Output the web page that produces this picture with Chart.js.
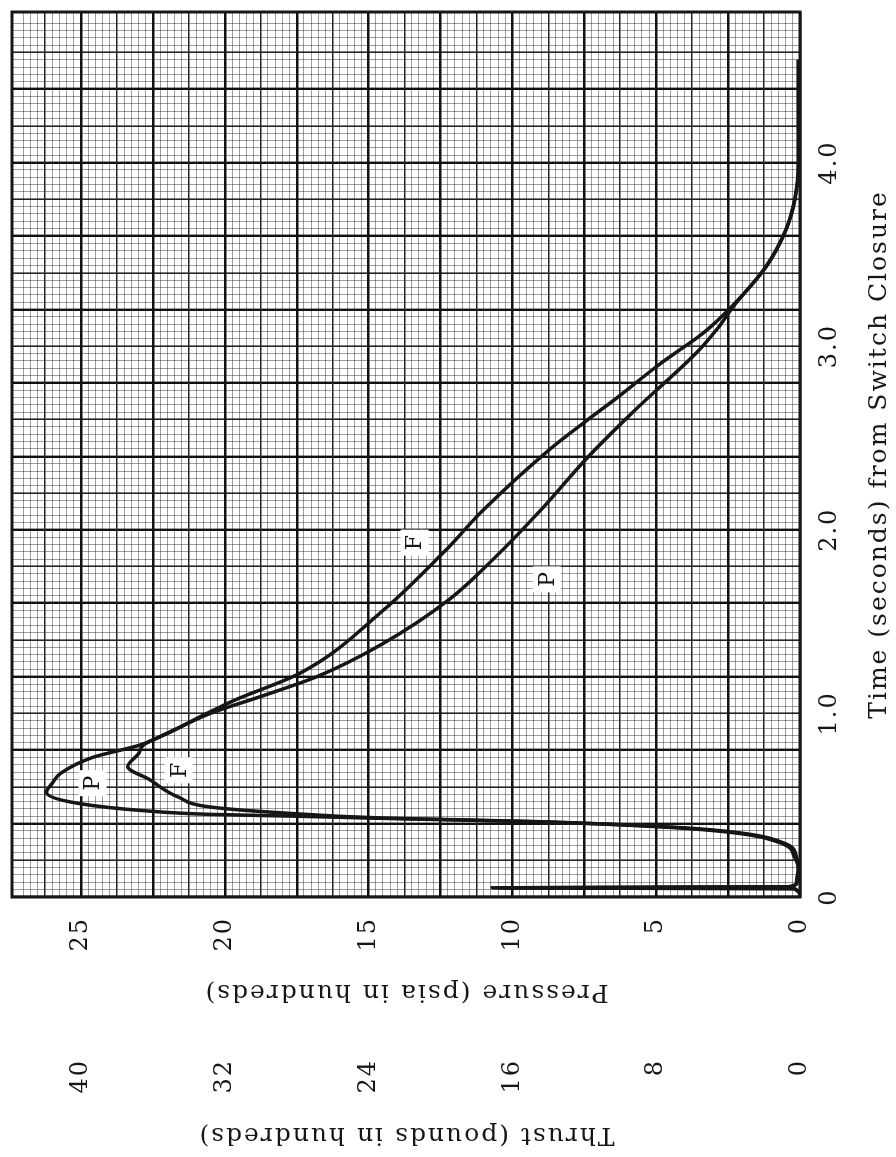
<!DOCTYPE html>
<html>
<head>
<meta charset="utf-8">
<title>Pressure and thrust vs time</title>
<script src="https://cdn.jsdelivr.net/npm/chart.js@4.4.0/dist/chart.umd.min.js"></script>
<style>
    html, body { margin: 0; padding: 0; background: #fff; overflow: hidden; }
    /* the whole record is printed turned a quarter turn to the left */
    #wrap {
        position: absolute; left: 0; top: 0;
        width: 1157px; height: 896px;
        transform-origin: 0 0;
        transform: translate(0px, 1157px) rotate(-90deg);
    }
</style>
</head>
<body>
<div id="wrap"><canvas id="motorChart" width="1157" height="896"></canvas></div>
<script>
// 時間 (s) 與壓力 P (psia / 100)
const pTime = [0, 0.045, 0.05, 0.056, 0.08, 0.15, 0.22, 0.29, 0.35, 0.38, 0.41, 0.43, 0.44, 0.45, 0.47, 0.51, 0.57, 0.62, 0.675, 0.76, 0.83, 0.90, 1.0, 1.1, 1.2, 1.38, 1.62, 1.85, 2.11, 2.4, 2.65, 2.98, 3.1, 3.22, 3.43, 3.63, 3.8, 4.0, 4.3, 4.56];
const pPressure = [0, 0.2, 10.7, 0.4, 0.1, 0.05, 0.2, 0.6, 2.3, 4.6, 9.2, 15.0, 17.5, 20.5, 22.8, 25.1, 26.2, 26.0, 25.7, 24.6, 22.9, 21.9, 20.5, 18.6, 16.8, 14.5, 12.2, 10.6, 9.0, 7.35, 5.75, 3.5, 2.85, 2.3, 1.2, 0.5, 0.17, 0.05, 0.05, 0.05];

// 時間 (s) 與推力 F (lb / 100)
const fTime = [0, 0.045, 0.05, 0.056, 0.08, 0.15, 0.22, 0.29, 0.35, 0.38, 0.41, 0.43, 0.46, 0.49, 0.545, 0.64, 0.71, 0.78, 0.83, 0.90, 1.0, 1.07, 1.22, 1.56, 1.89, 2.11, 2.44, 2.6, 2.71, 2.91, 3.07, 3.22, 3.43, 3.63, 3.8, 4.0, 4.3, 4.56];
const fThrust = [0, 0.3, 16.8, 0.5, 0.2, 0.1, 0.2, 0.8, 3.4, 7.0, 14.4, 23.2, 29.1, 32.8, 34.6, 36.2, 37.4, 36.8, 36.5, 35.0, 33.0, 31.5, 27.8, 23.2, 19.7, 17.6, 13.9, 11.8, 10.3, 7.7, 5.4, 3.75, 1.9, 0.8, 0.3, 0.1, 0.1, 0.1];

// 刻度
const timeTickValues = [0, 1, 2, 3, 4];
const timeTickLabels = ['0', '1.0', '2.0', '3.0', '4.0'];
const pressureTickValues = [0, 5, 10, 15, 20, 25];
const pressureTickLabels = ['0', '5', '10', '15', '20', '25'];
const thrustTickValues = [0, 8, 16, 24, 32, 40];
const thrustTickLabels = ['0', '8', '16', '24', '32', '40'];

// 曲線旁的字母
const curveLabelText = ['P', 'F', 'F', 'P'];
const curveLabelTime = [0.62, 0.69, 1.93, 1.73];
const curveLabelPressure = [24.6, 21.6, 13.4, 8.8];

const INK = '#161616';
const FONT = "'DejaVu Serif', 'Liberation Serif', serif";

/**
 * 方格紙：每 10 格粗線，每 5 格中線，其餘細線
 */
function gridColor(step) {
    return function (ctx) {
        const v = ctx.tick.value;
        const n = Math.round(v / step);
        if (Math.abs(v - n * step) > step / 100) return 'rgba(0,0,0,0)';
        if (n % 10 === 0) return '#111';
        if (n % 5 === 0) return '#262626';
        return 'rgba(0,0,0,0.38)';
    };
}
function gridWidth(step) {
    return function (ctx) {
        const n = Math.round(ctx.tick.value / step);
        if (n % 10 === 0) return 2.4;
        if (n % 5 === 0) return 1.6;
        return 1;
    };
}
function pickLabel(values, labels) {
    return function (value) {
        const i = values.findIndex(v => Math.abs(v - value) < 1e-6);
        return i >= 0 ? labels[i] : '';
    };
}
// 固定軸的寬高，不讓空白刻度撐開邊距
function fixSize(w, h) {
    return function (scale) {
        if (w) scale.width = w;
        if (h) scale.height = h;
        scale.paddingTop = 0;
        scale.paddingBottom = 0;
        scale.paddingLeft = 0;
        scale.paddingRight = 0;
    };
}

// 打字機字距
const spacingPlugin = {
    id: 'typewriter',
    beforeDraw(chart) {
        chart.ctx.letterSpacing = '2px';
    }
};

const framePlugin = {
    id: 'frame',
    beforeDatasetsDraw(chart) {
        const { ctx, chartArea: a } = chart;
        ctx.save();
        ctx.strokeStyle = INK;
        ctx.lineWidth = 3;
        ctx.strokeRect(a.left, a.top, a.right - a.left, a.bottom - a.top);
        ctx.restore();
    }
};

const curveLabelPlugin = {
    id: 'curveLabels',
    afterDatasetsDraw(chart) {
        const { ctx } = chart;
        const xs = chart.scales.x;
        const ys = chart.scales.y;
        ctx.save();
        ctx.font = '22px ' + FONT;
        ctx.textAlign = 'center';
        ctx.textBaseline = 'middle';
        curveLabelText.forEach((t, i) => {
            const px = xs.getPixelForValue(curveLabelTime[i]);
            const py = ys.getPixelForValue(curveLabelPressure[i]);
            ctx.fillStyle = '#fff';
            ctx.fillRect(px - 13, py - 14, 26, 28);
            ctx.fillStyle = INK;
            ctx.fillText(t, px + 1, py + 1);
        });
        ctx.restore();
    }
};

const toPoints = (xs, ys) => xs.map((x, i) => ({ x: x, y: ys[i] }));

new Chart(document.getElementById('motorChart'), {
    type: 'line',
    data: {
        datasets: [
            {
                label: 'P',
                data: toPoints(pTime, pPressure),
                yAxisID: 'y',
                borderColor: INK,
                borderWidth: 3.5,
                cubicInterpolationMode: 'monotone',
                pointRadius: 0,
                fill: false
            },
            {
                label: 'F',
                data: toPoints(fTime, fThrust),
                yAxisID: 'y2',
                borderColor: INK,
                borderWidth: 3.5,
                cubicInterpolationMode: 'monotone',
                pointRadius: 0,
                fill: false
            }
        ]
    },
    options: {
        responsive: false,
        animation: false,
        events: [],
        layout: { padding: { top: 12, right: 12, bottom: 0, left: 0 } },
        plugins: {
            legend: { display: false },
            tooltip: { enabled: false }
        },
        scales: {
            x: {
                type: 'linear',
                min: 0,
                max: 4.82,
                afterFit: fixSize(0, 96),
                border: { display: false },
                grid: {
                    color: gridColor(0.04),
                    lineWidth: gridWidth(0.04),
                    drawTicks: false
                },
                ticks: {
                    stepSize: 0.04,
                    autoSkip: false,
                    maxRotation: 0,
                    padding: 15,
                    color: INK,
                    font: { size: 24, family: FONT },
                    callback: pickLabel(timeTickValues, timeTickLabels)
                },
                title: {
                    display: true,
                    text: 'Time (seconds) from Switch Closure',
                    color: INK,
                    font: { size: 25, family: FONT },
                    padding: { top: 0, bottom: 2 }
                }
            },
            y: {
                type: 'linear',
                position: 'left',
                weight: 0,
                min: 0,
                max: 27.4,
                afterFit: fixSize(140, 0),
                border: { display: false },
                grid: {
                    color: gridColor(0.25),
                    lineWidth: gridWidth(0.25),
                    drawTicks: false
                },
                ticks: {
                    stepSize: 0.25,
                    autoSkip: false,
                    padding: 20,
                    color: INK,
                    font: { size: 24, family: FONT },
                    callback: pickLabel(pressureTickValues, pressureTickLabels)
                },
                title: {
                    display: true,
                    text: 'Pressure (psia in hundreds)',
                    color: INK,
                    font: { size: 25, family: FONT },
                    padding: { top: 30, bottom: 0 }
                }
            },
            y2: {
                type: 'linear',
                position: 'left',
                weight: 1,
                min: 0,
                max: 43.84,
                afterFit: fixSize(120, 0),
                border: { display: false },
                grid: { display: false, drawTicks: false },
                ticks: {
                    stepSize: 8,
                    autoSkip: false,
                    padding: 22,
                    color: INK,
                    font: { size: 24, family: FONT },
                    callback: pickLabel(thrustTickValues, thrustTickLabels)
                },
                title: {
                    display: true,
                    text: 'Thrust (pounds in hundreds)',
                    color: INK,
                    font: { size: 25, family: FONT },
                    padding: { top: 7, bottom: 0 }
                }
            }
        }
    },
    plugins: [spacingPlugin, framePlugin, curveLabelPlugin]
});
</script>
</body>
</html>
